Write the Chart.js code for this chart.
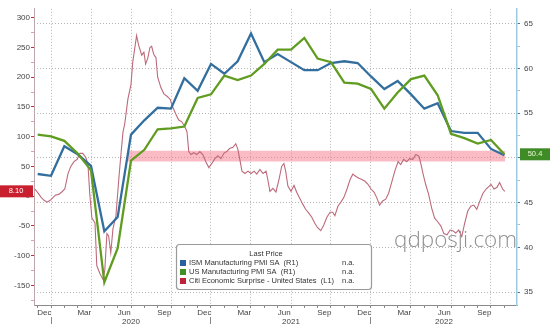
<!DOCTYPE html>
<html>
<head>
<meta charset="utf-8">
<script src="https://cdn.jsdelivr.net/npm/chart.js@4.4.1/dist/chart.umd.min.js"></script>
<style>
html, body { margin: 0; padding: 0; background: #fff; }
#wrap { width: 550px; height: 333px; }
</style>
</head>
<body>
<div id="wrap"><canvas id="pmiChart" width="550" height="333"></canvas></div>
<script>
// monthly PMI readings (plotted at month end)
var pmiMonths = ['2019-11','2019-12',
	'2020-01','2020-02','2020-03','2020-04','2020-05','2020-06','2020-07','2020-08','2020-09','2020-10','2020-11','2020-12',
	'2021-01','2021-02','2021-03','2021-04','2021-05','2021-06','2021-07','2021-08','2021-09','2021-10','2021-11','2021-12',
	'2022-01','2022-02','2022-03','2022-04','2022-05','2022-06','2022-07','2022-08','2022-09','2022-10'];
var ismPmi = [48.2, 48.0,
	51.3, 50.4, 49.1, 41.8, 43.4, 52.6, 54.2, 55.6, 55.5, 58.9, 57.5, 60.5,
	59.4, 60.8, 63.9, 60.7, 61.6, 60.7, 59.8, 59.8, 60.6, 60.8, 60.6, 59.1,
	57.7, 58.6, 57.1, 55.5, 56.1, 53.0, 52.8, 52.8, 51.0, 50.3];
var usPmi = [52.6, 52.4,
	51.9, 50.5, 48.6, 36.1, 39.9, 49.7, 50.9, 53.2, 53.3, 53.5, 56.7, 57.1,
	59.2, 58.7, 59.2, 60.5, 62.1, 62.1, 63.4, 61.1, 60.7, 58.4, 58.3, 57.7,
	55.5, 57.3, 58.8, 59.2, 57.0, 52.7, 52.2, 51.6, 52.0, 50.4];

// Citi economic surprise index
var citiDates = ['2019-11-25','2019-12-02','2019-12-09','2019-12-16','2019-12-23','2019-12-30',
	'2020-01-05','2020-01-12','2020-01-19','2020-01-26','2020-02-02','2020-02-09','2020-02-15','2020-02-22','2020-02-29',
	'2020-03-06','2020-03-13','2020-03-20','2020-03-25','2020-03-29','2020-04-03','2020-04-10','2020-04-14','2020-04-21','2020-04-28',
	'2020-05-02','2020-05-07','2020-05-11','2020-05-16','2020-05-21','2020-05-28','2020-06-04','2020-06-08','2020-06-13','2020-06-17','2020-06-24',
	'2020-07-01','2020-07-05','2020-07-10','2020-07-14','2020-07-19','2020-07-26','2020-07-31','2020-08-04','2020-08-09','2020-08-14','2020-08-18','2020-08-23','2020-08-28',
	'2020-09-01','2020-09-08','2020-09-15','2020-09-22','2020-09-29','2020-10-05','2020-10-12','2020-10-19','2020-10-26',
	'2020-11-02','2020-11-07','2020-11-11','2020-11-16','2020-11-22','2020-11-29','2020-12-06','2020-12-13','2020-12-20','2020-12-27',
	'2021-01-03','2021-01-10','2021-01-17','2021-01-24','2021-01-31','2021-02-06','2021-02-12','2021-02-19','2021-02-25',
	'2021-03-01','2021-03-06','2021-03-11','2021-03-18','2021-03-25','2021-04-01','2021-04-08','2021-04-14','2021-04-21','2021-04-28',
	'2021-05-05','2021-05-09','2021-05-14','2021-05-21','2021-05-28','2021-06-04','2021-06-10','2021-06-15','2021-06-19','2021-06-24',
	'2021-07-01','2021-07-08','2021-07-14','2021-07-21','2021-07-28','2021-08-04','2021-08-11','2021-08-18','2021-08-25',
	'2021-09-01','2021-09-08','2021-09-15','2021-09-22','2021-09-29','2021-10-05','2021-10-10','2021-10-17','2021-10-24','2021-10-31',
	'2021-11-07','2021-11-14','2021-11-20','2021-11-27','2021-12-04','2021-12-11','2021-12-18','2021-12-25',
	'2022-01-01','2022-01-08','2022-01-14','2022-01-21','2022-01-28','2022-02-04','2022-02-10','2022-02-17','2022-02-23',
	'2022-03-02','2022-03-08','2022-03-15','2022-03-22','2022-03-29','2022-04-05','2022-04-12','2022-04-19','2022-04-23','2022-04-28',
	'2022-05-04','2022-05-11','2022-05-18','2022-05-25','2022-06-01','2022-06-08','2022-06-15','2022-06-22','2022-06-29',
	'2022-07-05','2022-07-12','2022-07-19','2022-07-26','2022-08-02','2022-08-09','2022-08-16','2022-08-23','2022-08-30',
	'2022-09-06','2022-09-13','2022-09-20','2022-09-27','2022-10-01','2022-10-08','2022-10-15','2022-10-21','2022-10-28','2022-11-02'];
var citiValues = [12, 5, -2, -7, -10, -7,
	-3, 2, 3, 7, 12, 38, 50, 58, 62,
	72, 72, 65, 53, 5, -37, -45, -117, -130, -140,
	-125, -63, -67, -95, -55, -33, 33, 67, 108, 122, 163,
	188, 225, 250, 270, 253, 237, 242, 222, 232, 250, 252, 238, 233,
	200, 183, 172, 168, 163, 150, 138, 128, 125,
	117, 108, 75, 70, 73, 70, 75, 70, 58, 48,
	55, 63, 68, 63, 72, 75, 80, 82, 88,
	80, 62, 42, 38, 42, 38, 42, 37, 45, 38,
	42, 28, 8, 13, 7, 28, 50, 55, 42, 17,
	8, 18, 7, -3, -13, -22, -28, -35, -45,
	-53, -58, -48, -35, -27, -27, -33, -17, -10, -2,
	12, 28, 37, 33, 30, 28, 25, 20,
	12, 7, -2, -15, -8, -5, 5, 25, 42,
	58, 53, 62, 58, 63, 62, 70, 67, 55, 38,
	20, 3, -20, -37, -43, -50, -63, -65, -57,
	-58, -62, -57, -68, -45, -25, -17, -15, -22,
	-8, 5, 12, 17, 20, 12, 15, 23, 12, 8.1];

// axis labels
var quarterLabels = ['Dec','Mar','Jun','Sep','Dec','Mar','Jun','Sep','Dec','Mar','Jun','Sep'];
var yearLabels = ['2020', '2021', '2022'];

// shaded band around PMI 50
var bandStart = '2020-06-24', bandEnd = '2022-11-03';
var bandLow = 49.6, bandHigh = 50.8;

var BLUE = '#336f9e', GREEN = '#5f9c20', CITI = '#bd6a7a';
var FONT = '"Liberation Sans", Arial, sans-serif';

// months since 1 Jan 2020
function monthPos(s) {
	var p = s.split('-').map(Number);
	var dim = new Date(p[0], p[1], 0).getDate();
	return (p[0] - 2020) * 12 + (p[1] - 1) + ((p[2] || 1) - 1) / dim;
}
function monthEnd(s) {
	var p = s.split('-').map(Number);
	return (p[0] - 2020) * 12 + p[1];
}

var xMin = -1.275, xMax = 34.95;

var ismPts = pmiMonths.map(function (m, i) { return {x: monthEnd(m), y: ismPmi[i]}; });
var usPts = pmiMonths.map(function (m, i) { return {x: monthEnd(m), y: usPmi[i]}; });
var citiPts = citiDates.map(function (d, i) { return {x: monthPos(d), y: citiValues[i]}; });

var monthTicks = [];
for (var k = -1; k <= 34; k++) monthTicks.push(k);
var yearTicks = [0, 6, 12, 18, 24, (24 + xMax) / 2];

var extras = {
	id: 'extras',
	afterDraw: function (chart) {
		var ctx = chart.ctx;
		var yL = chart.scales.yL, yR = chart.scales.yR;
		ctx.save();

		// watermark
		ctx.font = '300 22.5px "Open Sans", sans-serif';
		ctx.fillStyle = 'rgba(110,110,110,0.75)';
		ctx.textBaseline = 'alphabetic';
		ctx.fillText('qdposji.com', 394, 247);

		// legend box
		ctx.beginPath();
		ctx.roundRect(176.5, 244.5, 195, 45, 3);
		ctx.fillStyle = '#fff';
		ctx.fill();
		ctx.lineWidth = 1.2;
		ctx.strokeStyle = '#9a9a9a';
		ctx.stroke();
		ctx.font = '7.5px ' + FONT;
		ctx.fillStyle = '#333';
		ctx.textAlign = 'center';
		ctx.textBaseline = 'middle';
		ctx.fillText('Last Price', 266, 254);
		ctx.textAlign = 'left';
		var rows = [chart.data.datasets[0], chart.data.datasets[1], chart.data.datasets[2]];
		var sq = ['#2a5fa0', '#3f8f25', '#c0203a'];
		rows.forEach(function (ds, i) {
			var yy = 263 + i * 9;
			ctx.fillStyle = sq[i];
			ctx.fillRect(180, yy - 3, 6, 6);
			ctx.fillStyle = '#333';
			ctx.fillText(ds.label, 189, yy);
			ctx.fillText('n.a.', 342, yy);
		});

		// last value tags
		var citiLast = citiValues[citiValues.length - 1];
		var py = yL.getPixelForValue(citiLast);
		ctx.fillStyle = '#c8202f';
		ctx.fillRect(0, py - 6, 33, 12);
		ctx.fillStyle = '#fff';
		ctx.textAlign = 'center';
		ctx.fillText(citiLast.toFixed(2), 16, py);

		var usLast = usPmi[usPmi.length - 1];
		py = yR.getPixelForValue(usLast);
		ctx.fillStyle = '#3f8c27';
		ctx.fillRect(520, py - 6, 30, 12);
		ctx.fillStyle = '#eaf6d6';
		ctx.fillText(usLast.toFixed(1), 535, py);
		ctx.restore();
	}
};

var ctx = document.getElementById('pmiChart');

var myChart = new Chart(ctx, {
	type: 'line',
	data: {
		datasets: [
			{
				label: 'ISM Manufacturing PMI SA  (R1)',
				data: ismPts,
				yAxisID: 'yR',
				borderColor: BLUE,
				borderWidth: 2.3,
				pointRadius: 0,
				order: 1
			},
			{
				label: 'US Manufacturing PMI SA  (R1)',
				data: usPts,
				yAxisID: 'yR',
				borderColor: GREEN,
				borderWidth: 2.3,
				pointRadius: 0,
				order: 0
			},
			{
				label: 'Citi Economic Surprise - United States  (L1)',
				data: citiPts,
				yAxisID: 'yL',
				borderColor: CITI,
				borderWidth: 1.1,
				pointRadius: 0,
				order: 2
			},
			{
				label: 'bandTop',
				data: [{x: monthPos(bandStart), y: bandHigh}, {x: monthPos(bandEnd), y: bandHigh}],
				yAxisID: 'yR',
				borderWidth: 0,
				borderColor: 'transparent',
				pointRadius: 0,
				fill: false,
				order: 5
			},
			{
				label: 'bandBottom',
				data: [{x: monthPos(bandStart), y: bandLow}, {x: monthPos(bandEnd), y: bandLow}],
				yAxisID: 'yR',
				borderWidth: 0,
				borderColor: 'transparent',
				backgroundColor: 'rgba(246,120,140,0.5)',
				pointRadius: 0,
				fill: '-1',
				order: 5
			}
		]
	},
	options: {
		responsive: false,
		animation: false,
		devicePixelRatio: 1,
		layout: { padding: 0 },
		plugins: {
			legend: { display: false },
			tooltip: { enabled: false }
		},
		scales: {
			x: {
				type: 'linear',
				position: 'bottom',
				min: xMin,
				max: xMax,
				afterBuildTicks: function (s) { s.ticks = monthTicks.map(function (v) { return {value: v}; }); },
				afterFit: function (s) { s.height = 12; },
				ticks: {
					autoSkip: false,
					maxRotation: 0,
					padding: 0,
					labelOffset: -6.7,
					color: '#444',
					font: { family: FONT, size: 8 },
					callback: function (v) {
						return (v >= 0 && v % 3 === 0) ? quarterLabels[v / 3] : '';
					}
				},
				grid: {
					color: function (c) { return (c.tick && c.tick.value >= 0 && c.tick.value % 3 === 0) ? '#b5b5b5' : 'transparent'; },
					tickColor: '#888',
					tickLength: 3,
					lineWidth: 1
				},
				border: { color: '#8a8a8a', dash: [1, 2] }
			},
			xYear: {
				type: 'linear',
				position: 'bottom',
				min: xMin,
				max: xMax,
				afterBuildTicks: function (s) { s.ticks = yearTicks.map(function (v) { return {value: v}; }); },
				afterFit: function (s) { s.height = 16; },
				ticks: {
					autoSkip: false,
					maxRotation: 0,
					padding: -7,
					color: '#444',
					font: { family: FONT, size: 8 },
					callback: function (v, i) { return i % 2 === 1 ? yearLabels[(i - 1) / 2] : ''; }
				},
				grid: {
					drawOnChartArea: false,
					tickLength: 7,
					tickColor: function (c) { return c.index % 2 === 0 ? '#888' : 'transparent'; }
				},
				border: { display: false }
			},
			yL: {
				type: 'linear',
				position: 'left',
				min: -183,
				max: 315,
				afterBuildTicks: function (s) {
					var t = [];
					for (var v = -175; v <= 300; v += 25) t.push({value: v});
					s.ticks = t;
				},
				afterFit: function (s) { s.width = 34; },
				ticks: {
					autoSkip: false,
					padding: 1,
					color: '#444',
					font: { family: FONT, size: 8 },
					callback: function (v) { return (v % 50 === 0 && v >= -150) ? String(v) : ''; }
				},
				grid: {
					drawOnChartArea: false,
					tickLength: 3,
					tickColor: function (c) { return c.tick.value % 50 === 0 ? '#c42a3c' : '#d9a3ab'; }
				},
				border: { color: '#bda7ac' }
			},
			yR: {
				type: 'linear',
				position: 'right',
				min: 33.56,
				max: 66.66,
				afterBuildTicks: function (s) {
					var t = [];
					for (var v = 35; v <= 65; v += 2.5) t.push({value: v});
					s.ticks = t;
				},
				afterFit: function (s) { s.width = 33; },
				ticks: {
					autoSkip: false,
					padding: 4,
					color: '#444',
					font: { family: FONT, size: 8 },
					callback: function (v) { return v % 5 === 0 ? String(v) : ''; }
				},
				grid: {
					color: function (c) { return (c.tick && c.tick.value % 5 === 0) ? '#b5b5b5' : 'transparent'; },
					tickLength: 3,
					tickColor: function (c) { return c.tick.value % 5 === 0 ? '#3b7fb2' : '#9cc3dc'; }
				},
				border: { color: '#9fcbe0', width: 1.5, dash: [1, 2] }
			}
		}
	},
	plugins: [extras]
});
</script>
</body>
</html>
